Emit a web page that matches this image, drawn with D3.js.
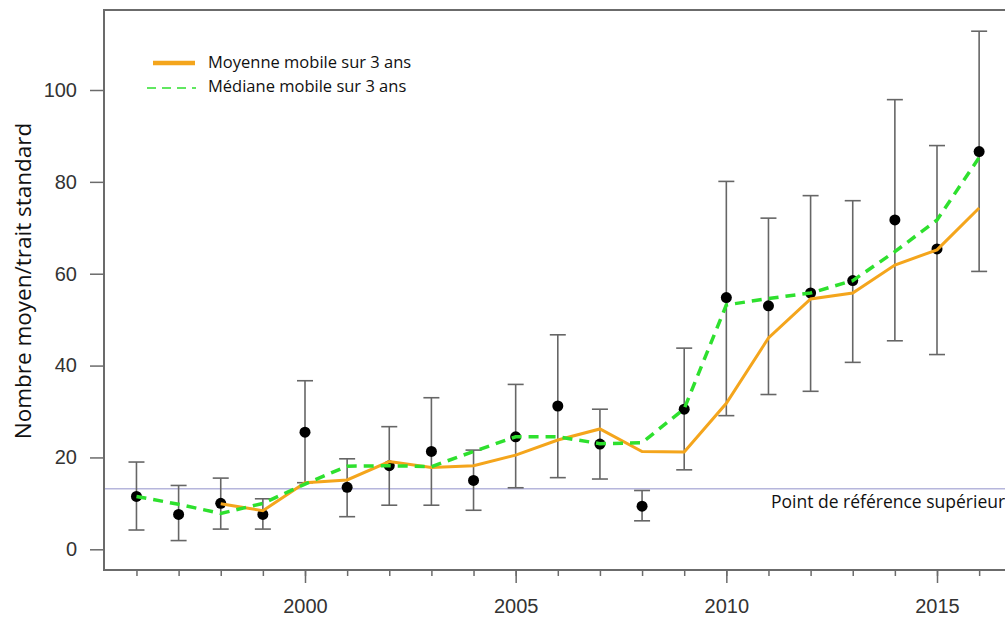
<!DOCTYPE html>
<html>
<head>
<meta charset="utf-8">
<script src="https://cdn.jsdelivr.net/npm/d3@7"></script>
<style>
  body { margin: 0; background: #fff; }
  svg { display: block; }
</style>
</head>
<body>
<div id="chart"></div>
<script>

let years = [1996, 1997, 1998, 1999, 2000, 2001, 2002, 2003, 2004, 2005, 2006,
             2007, 2008, 2009, 2010, 2011, 2012, 2013, 2014, 2015, 2016];
let meanValues = [11.5, 7.6, 10.0, 7.6, 25.5, 13.5, 18.2, 21.3, 15.0, 24.5, 31.2,
                  22.9, 9.4, 30.5, 54.8, 53.0, 55.8, 58.5, 71.7, 65.4, 86.6];
let upperValues = [19.0, 13.9, 15.5, 11.0, 36.7, 19.7, 26.7, 33.0, 21.6, 35.9, 46.7,
                   30.5, 12.8, 43.8, 80.1, 72.1, 77.0, 75.9, 97.9, 87.9, 112.8];
let lowerValues = [4.2, 1.9, 4.4, 4.4, 14.5, 7.1, 9.6, 9.6, 8.5, 13.4, 15.6,
                   15.3, 6.2, 17.3, 29.1, 33.7, 34.4, 40.7, 45.4, 42.4, 60.5];

// moyenne mobile starts in 1998
let movingMeanYears = years.slice(2);
let movingMean = [9.9, 8.4, 14.5, 15.1, 19.1, 17.8, 18.2, 20.5, 23.8, 26.2, 21.3,
                  21.2, 31.8, 46.0, 54.5, 55.8, 61.9, 65.2, 74.3];
let movingMedian = [11.5, 9.8, 7.8, 10.0, 14.2, 18.1, 18.2, 18.0, 21.3, 24.5, 24.5,
                    23.0, 23.2, 30.6, 53.2, 54.6, 55.8, 58.5, 64.8, 71.7, 85.3];

let yTicks = [0, 20, 40, 60, 80, 100];
let xMajorTicks = [2000, 2005, 2010, 2015];
let referenceValue = 13.2;

let legendLabels = ["Moyenne mobile sur 3 ans", "Médiane mobile sur 3 ans"];
let yTitle = "Nombre moyen/trait standard";
let referenceLabel = "Point de référence supérieur";

let width = 1005;
let height = 620;
let plotLeft = 104, plotTop = 10, plotBottom = 570;

let x = d3.scaleLinear().domain([2000, 2015]).range([305, 937]);
let y = d3.scaleLinear().domain([0, 100]).range([549.3, 90]);

let svg = d3.select("#chart").append("svg")
    .attr("width", width)
    .attr("height", height);

// frame
svg.append("path")
    .attr("d", `M${width + 5},${plotTop}H${plotLeft}V${plotBottom}H${width + 5}`)
    .attr("fill", "none")
    .attr("stroke", "#6b6b6b")
    .attr("stroke-width", 2);

// y axis
let yAxis = svg.append("g")
    .attr("transform", `translate(${plotLeft},0)`)
    .call(d3.axisLeft(y).tickValues(yTicks).tickSize(14).tickPadding(13));
yAxis.select(".domain").remove();
yAxis.selectAll(".tick line").attr("stroke", "#6b6b6b").attr("stroke-width", 1.5);
yAxis.selectAll(".tick text")
    .attr("font-family", "'Liberation Sans', Arial, sans-serif")
    .attr("font-size", 20)
    .attr("fill", "#333");

// x axis, minor ticks every year
let xMinor = svg.append("g")
    .attr("transform", `translate(0,${plotBottom})`)
    .call(d3.axisBottom(x).tickValues(years).tickSize(6).tickFormat(""));
xMinor.select(".domain").remove();
xMinor.selectAll(".tick line").attr("stroke", "#6b6b6b").attr("stroke-width", 1.5);

let xAxis = svg.append("g")
    .attr("transform", `translate(0,${plotBottom})`)
    .call(d3.axisBottom(x).tickValues(xMajorTicks).tickSize(13).tickPadding(16)
        .tickFormat(d3.format("d")));
xAxis.select(".domain").remove();
xAxis.selectAll(".tick line").attr("stroke", "#6b6b6b").attr("stroke-width", 1.5);
xAxis.selectAll(".tick text")
    .attr("font-family", "'Liberation Sans', Arial, sans-serif")
    .attr("font-size", 20)
    .attr("fill", "#333");

// y title
svg.append("text")
    .attr("transform", `translate(31,281) rotate(-90)`)
    .attr("text-anchor", "middle")
    .attr("font-family", "'Open Sans', sans-serif")
    .attr("font-size", 22.5)
    .attr("fill", "#111")
    .text(yTitle);

// reference line
svg.append("line")
    .attr("x1", plotLeft + 1).attr("x2", width)
    .attr("y1", y(referenceValue)).attr("y2", y(referenceValue))
    .attr("stroke", "#b6b6dc")
    .attr("stroke-width", 1.5);

svg.append("text")
    .attr("x", 771)
    .attr("y", 508)
    .attr("font-family", "'Open Sans', sans-serif")
    .attr("font-size", 17.5)
    .attr("fill", "#111")
    .text(referenceLabel);

// error bars
let bars = svg.append("g")
    .attr("stroke", "#666")
    .attr("stroke-width", 1.6)
    .selectAll("g")
    .data(years.map((d, i) => ({year: d, lo: lowerValues[i], hi: upperValues[i]})))
    .join("g");

bars.append("line")
    .attr("x1", d => x(d.year)).attr("x2", d => x(d.year))
    .attr("y1", d => y(d.lo)).attr("y2", d => y(d.hi));
bars.append("line")
    .attr("x1", d => x(d.year) - 8).attr("x2", d => x(d.year) + 8)
    .attr("y1", d => y(d.hi)).attr("y2", d => y(d.hi));
bars.append("line")
    .attr("x1", d => x(d.year) - 8).attr("x2", d => x(d.year) + 8)
    .attr("y1", d => y(d.lo)).attr("y2", d => y(d.lo));

// points
svg.append("g")
    .selectAll("circle")
    .data(years.map((d, i) => ({year: d, v: meanValues[i]})))
    .join("circle")
        .attr("cx", d => x(d.year))
        .attr("cy", d => y(d.v))
        .attr("r", 5.5)
        .attr("fill", "#000");

let line = d3.line()
    .x(d => x(d[0]))
    .y(d => y(d[1]));

svg.append("path")
    .datum(movingMeanYears.map((d, i) => [d, movingMean[i]]))
    .attr("d", line)
    .attr("fill", "none")
    .attr("stroke", "#f4a51c")
    .attr("stroke-width", 3);

svg.append("path")
    .datum(years.map((d, i) => [d, movingMedian[i]]))
    .attr("d", line)
    .attr("fill", "none")
    .attr("stroke", "#2ee02e")
    .attr("stroke-width", 3.5)
    .attr("stroke-dasharray", "10,7");

// legend
let legend = svg.append("g");
legend.append("line")
    .attr("x1", 153).attr("x2", 195)
    .attr("y1", 63).attr("y2", 63)
    .attr("stroke", "#f4a51c")
    .attr("stroke-width", 4.5);
legend.append("line")
    .attr("x1", 147).attr("x2", 196)
    .attr("y1", 88).attr("y2", 88)
    .attr("stroke", "#2ee02e")
    .attr("stroke-width", 1.5)
    .attr("stroke-dasharray", "9,6");
legend.selectAll("text")
    .data(legendLabels)
    .join("text")
        .attr("x", 208)
        .attr("y", (d, i) => 68 + i * 24)
        .attr("font-family", "'Open Sans', sans-serif")
        .attr("font-size", 16.5)
        .attr("fill", "#111")
        .text(d => d);

</script>
</body>
</html>
